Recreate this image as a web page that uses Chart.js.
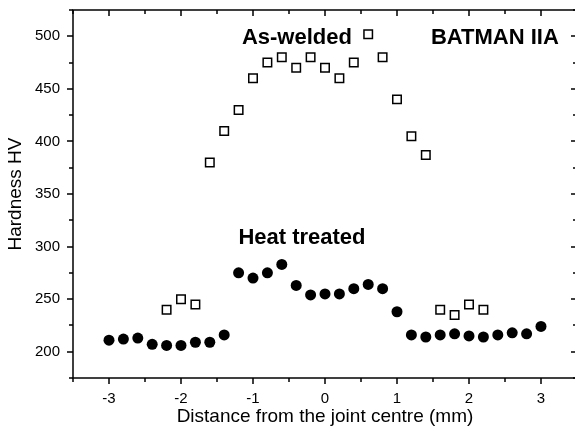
<!DOCTYPE html>
<html>
<head>
<meta charset="utf-8">
<script src="https://cdn.jsdelivr.net/npm/chart.js@4/dist/chart.umd.min.js"></script>
<style>
  html, body { margin: 0; padding: 0; overflow: hidden; background: #fff; }
  #wrap { width: 580px; height: 438px; }
  canvas { display: block; width: 580px; height: 438px; }
</style>
</head>
<body>
<div id="wrap"><canvas id="hv-canvas" width="580" height="438"></canvas></div>
<script>
const ctx = document.getElementById('hv-canvas').getContext('2d');

// distance from joint centre (mm)
const heatX = [-3, -2.8, -2.6, -2.4, -2.2, -2, -1.8, -1.6, -1.4, -1.2, -1, -0.8, -0.6, -0.4, -0.2,
    0, 0.2, 0.4, 0.6, 0.8, 1, 1.2, 1.4, 1.6, 1.8, 2, 2.2, 2.4, 2.6, 2.8, 3];
const heatHV = [211, 212, 213, 207, 206, 206, 209, 209, 216, 275, 270, 275, 283, 263, 254,
    255, 255, 260, 264, 260, 238, 216, 214, 216, 217, 215, 214, 216, 218, 217, 224];

const weldX = [-2.2, -2, -1.8, -1.6, -1.4, -1.2, -1, -0.8, -0.6, -0.4, -0.2,
    0, 0.2, 0.4, 0.6, 0.8, 1, 1.2, 1.4, 1.6, 1.8, 2, 2.2];
const weldHV = [240, 250, 245, 380, 410, 430, 460, 475, 480, 470, 480,
    470, 460, 475, 502, 480, 440, 405, 387, 240, 235, 245, 240];

const xTicks = [-3, -2, -1, 0, 1, 2, 3];
const yTicks = [200, 250, 300, 350, 400, 450, 500];

const notes = [
    { text: 'As-welded', x: -0.39, y: 492.5 },
    { text: 'BATMAN IIA', x: 2.36, y: 492.2 },
    { text: 'Heat treated', x: -0.32, y: 302.8 }
];

const FONT = "'Liberation Sans', Arial, sans-serif";

function toPoints(xs, ys) {
    return xs.map((x, i) => ({ x: x, y: ys[i] }));
}

// frame with ticks: outward on left/bottom, inward on top/right
const framePlugin = {
    id: 'frame',
    beforeDatasetsDraw(chart) {
        const c = chart.ctx;
        const a = chart.chartArea;
        const sx = chart.scales.x, sy = chart.scales.y;
        c.save();
        c.strokeStyle = '#000';
        c.lineWidth = 1.5;
        c.strokeRect(a.left, a.top, a.right - a.left, a.bottom - a.top);
        c.beginPath();
        for (let v = sx.min; v <= sx.max + 1e-9; v += 0.5) {
            const px = Math.round(sx.getPixelForValue(v));
            const major = Math.abs(v - Math.round(v)) < 1e-9;
            const len = major ? 6 : 4;
            c.moveTo(px, a.bottom); c.lineTo(px, a.bottom + len);
            c.moveTo(px, a.top); c.lineTo(px, a.top + len);
        }
        for (let v = sy.min; v <= sy.max + 1e-9; v += 25) {
            const py = Math.round(sy.getPixelForValue(v));
            const major = v % 50 === 0;
            const len = major ? 6 : 4;
            c.moveTo(a.left, py); c.lineTo(a.left - len, py);
            c.moveTo(a.right, py); c.lineTo(a.right - len, py);
        }
        c.stroke();
        c.restore();
    },
    afterDatasetsDraw(chart) {
        const c = chart.ctx;
        const sx = chart.scales.x, sy = chart.scales.y;
        c.save();
        c.fillStyle = '#000';
        c.font = "bold 22px " + FONT;
        c.textAlign = 'center';
        c.textBaseline = 'alphabetic';
        notes.forEach(n => {
            c.fillText(n.text, sx.getPixelForValue(n.x), sy.getPixelForValue(n.y));
        });
        c.restore();
    }
};

new Chart(ctx, {
    type: 'scatter',
    data: {
        datasets: [
            {
                label: 'As-welded',
                data: toPoints(weldX, weldHV),
                pointStyle: 'rect',
                pointRadius: 6,
                borderWidth: 1.5,
                borderColor: '#000',
                backgroundColor: '#fff'
            },
            {
                label: 'Heat treated',
                data: toPoints(heatX, heatHV),
                pointStyle: 'circle',
                pointRadius: 5.5,
                borderWidth: 0,
                backgroundColor: '#000'
            }
        ]
    },
    options: {
        responsive: false,
        animation: false,
        layout: { autoPadding: false, padding: { left: 0, top: 10, right: 3, bottom: 0 } },
        plugins: { legend: { display: false }, tooltip: { enabled: false } },
        scales: {
            x: {
                type: 'linear',
                min: -3.5,
                max: 3.5,
                afterBuildTicks: s => { s.ticks = xTicks.map(v => ({ value: v })); },
                afterFit: s => { s.height = 60; s.paddingLeft = 0; s.paddingRight = 0; },
                grid: { display: false, drawTicks: false, tickLength: 0 },
                border: { display: false },
                ticks: { color: '#000', font: { family: FONT, size: 15 }, padding: 12, maxRotation: 0 },
                title: {
                    display: true,
                    text: 'Distance from the joint centre (mm)',
                    color: '#000',
                    font: { family: FONT, size: 19 },
                    padding: { top: 0, bottom: 10 }
                }
            },
            y: {
                type: 'linear',
                min: 175,
                max: 525,
                afterBuildTicks: s => { s.ticks = yTicks.map(v => ({ value: v })); },
                afterFit: s => { s.width = 73; s.paddingTop = 0; s.paddingBottom = 0; },
                grid: { display: false, drawTicks: false, tickLength: 0 },
                border: { display: false },
                ticks: { color: '#000', font: { family: FONT, size: 15 }, padding: 13 },
                title: {
                    display: true,
                    text: 'Hardness HV',
                    color: '#000',
                    font: { family: FONT, size: 19 },
                    padding: { top: 4, bottom: 0 }
                }
            }
        }
    },
    plugins: [framePlugin]
});
</script>
</body>
</html>
